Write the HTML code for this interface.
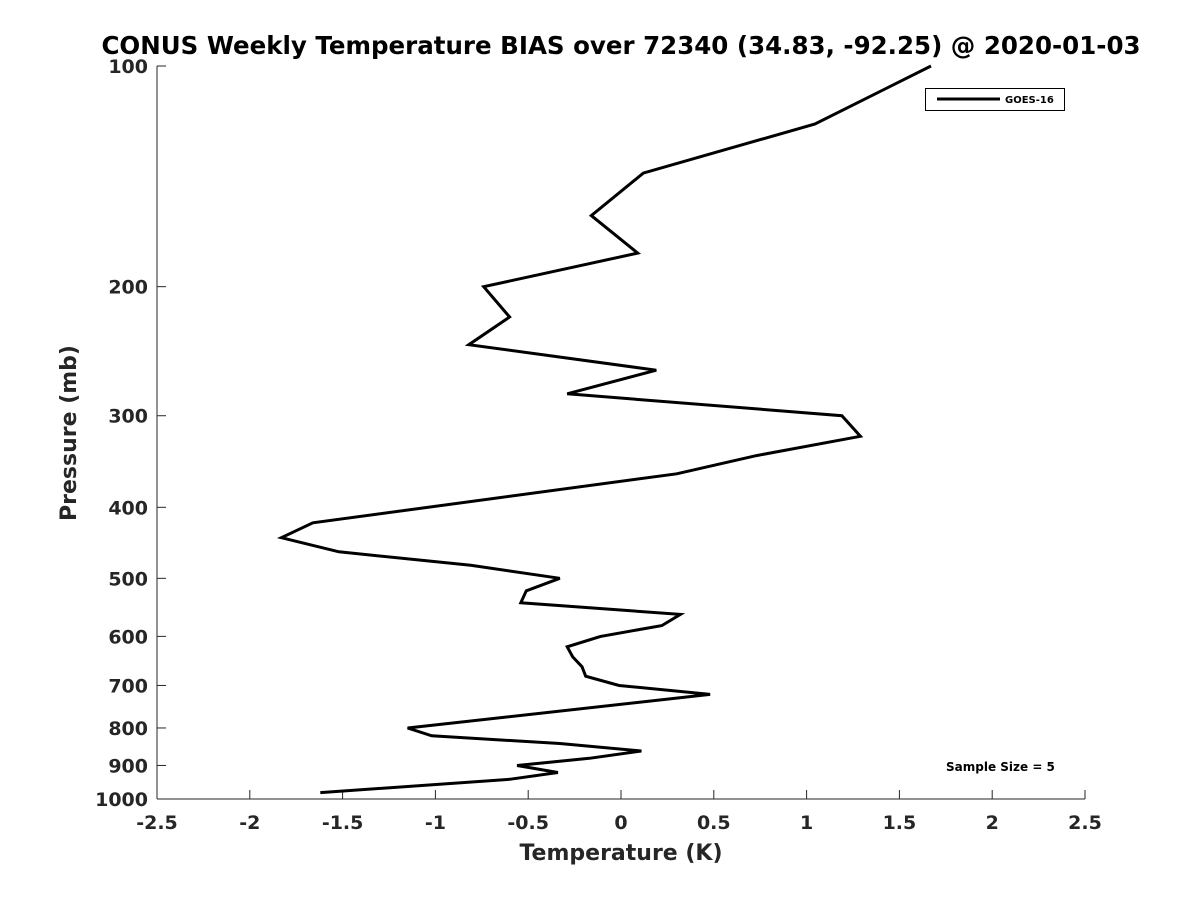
<!DOCTYPE html>
<html><head><meta charset="utf-8"><style>
body{margin:0;background:#fff;}
svg text{font-family:"DejaVu Sans","Liberation Sans",sans-serif;font-weight:bold;fill:#262626;}
</style></head><body>
<svg id="chart" width="1200" height="900" viewBox="0 0 1200 900">
<rect width="1200" height="900" fill="#fff"/>
<text x="621" y="54" text-anchor="middle" font-size="24.5" style="fill:#000">CONUS Weekly Temperature BIAS over 72340 (34.83, -92.25) @ 2020-01-03</text>
<g id="axes"></g>
<g id="series"></g>
<g>
<rect x="925.5" y="88.5" width="139" height="22" fill="#fff" stroke="#000" stroke-width="1"/>
<line x1="937" y1="99" x2="1000" y2="99" stroke="#000" stroke-width="3"/>
<text x="1005" y="103" font-size="10" style="fill:#000">GOES-16</text>
</g>
<text x="946" y="771" font-size="12" style="fill:#000">Sample Size = 5</text>
<text x="621" y="860" text-anchor="middle" font-size="22">Temperature (K)</text>
<text transform="translate(76,433) rotate(-90)" text-anchor="middle" font-size="22">Pressure (mb)</text>
</svg>
<script>
const xTicks=[-2.5,-2,-1.5,-1,-0.5,0,0.5,1,1.5,2,2.5];
const xTickLabels=["-2.5","-2","-1.5","-1","-0.5","0","0.5","1","1.5","2","2.5"];
const yTicks=[100,200,300,400,500,600,700,800,900,1000];
const yTickLabels=["100","200","300","400","500","600","700","800","900","1000"];
const pressure=[100,120,140,160,180,200,220,240,260,280,300,320,340,360,420,440,460,480,500,520,540,560,580,600,620,640,660,680,700,720,800,820,840,860,880,900,920,940,980];
const biasGoes16=[1.67,1.045,0.12,-0.16,0.09,-0.74,-0.60,-0.82,0.19,-0.29,1.19,1.29,0.73,0.30,-1.66,-1.83,-1.52,-0.81,-0.33,-0.51,-0.54,0.32,0.22,-0.11,-0.29,-0.26,-0.21,-0.19,-0.01,0.48,-1.15,-1.02,-0.33,0.11,-0.17,-0.56,-0.34,-0.60,-1.62];
const NS="http://www.w3.org/2000/svg";
const X0=157,X1=1085,Y0=66,Y1=799;
function xs(v){return X0+(v+2.5)/5*(X1-X0);}
function ys(p){return Y0+Math.log10(p/100)*(Y1-Y0);}
function mk(tag,attrs,parent){const e=document.createElementNS(NS,tag);for(const k in attrs)e.setAttribute(k,attrs[k]);parent.appendChild(e);return e;}
const axes=document.getElementById('axes');
const yl=mk('line',{x1:X0,y1:Y0,x2:X0,y2:Y1,stroke:'#262626','stroke-width':1},axes);


const xl=mk('line',{x1:X0,y1:Y1,x2:X1,y2:Y1,stroke:'#262626','stroke-width':1},axes);


xTicks.forEach((v,i)=>{
 const t=mk('line',{x1:xs(v),y1:Y1,x2:xs(v),y2:Y1-9,stroke:'#262626','stroke-width':1},axes);
 
 
 const l=mk('text',{x:xs(v),y:Y1+30,'text-anchor':'middle','font-size':19},axes);
 l.textContent=xTickLabels[i];
 
 
});
yTicks.forEach((p,i)=>{
 const t=mk('line',{x1:X0,y1:ys(p),x2:X0+9,y2:ys(p),stroke:'#262626','stroke-width':1},axes);
 
 
 const l=mk('text',{x:X0-9,y:ys(p)+7,'text-anchor':'end','font-size':19},axes);
 l.textContent=yTickLabels[i];
 
 
});
const pts=pressure.map((p,i)=>xs(biasGoes16[i]).toFixed(1)+','+ys(p).toFixed(1)).join(' ');
const line=mk('polyline',{points:pts,fill:'none',stroke:'#000','stroke-width':3,'stroke-linejoin':'miter'},document.getElementById('series'));


</script>
</body></html>
